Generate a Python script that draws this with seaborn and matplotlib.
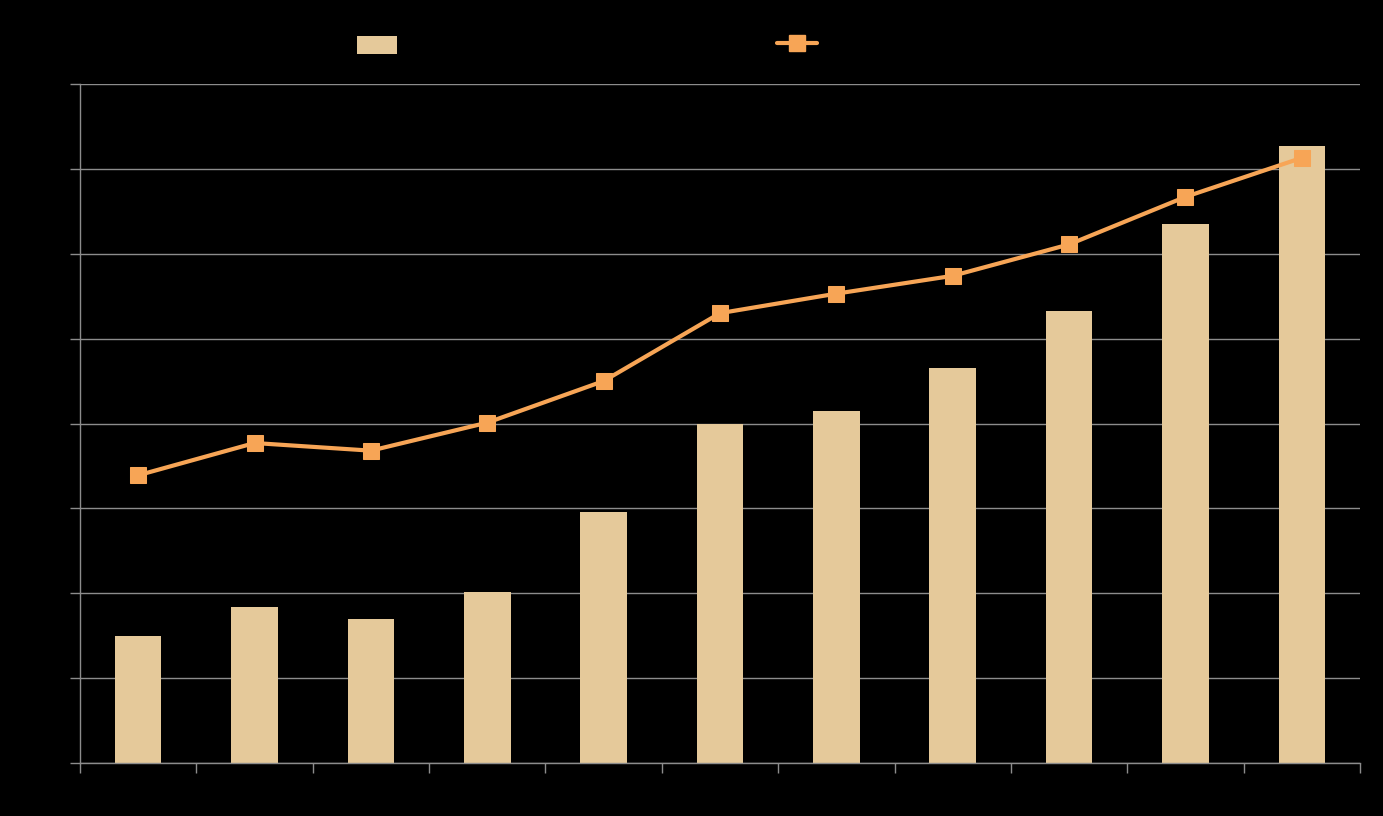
import numpy as np
import pandas as pd
import matplotlib
matplotlib.use('Agg')
import matplotlib.pyplot as plt
import seaborn as sns
from matplotlib.patches import Patch
from matplotlib.lines import Line2D

# values (no labels shown in the reference)
periods = ['P1', 'P2', 'P3', 'P4', 'P5', 'P6', 'P7', 'P8', 'P9', 'P10', 'P11']
bar_vals = [1.50, 1.84, 1.70, 2.01, 2.96, 3.99, 4.15, 4.65, 5.33, 6.35, 7.27]
line_vals = [3.39, 3.77, 3.68, 4.01, 4.50, 5.30, 5.53, 5.74, 6.11, 6.67, 7.13]

bar_color = '#E5C99A'
line_color = '#F7A556'
grid_color = '#8C8C8C'

df = pd.DataFrame({'period': periods, 'bars': bar_vals, 'line': line_vals})
df['pos'] = np.arange(len(df))

sns.set_style('dark')
fig = plt.figure(figsize=(13.83, 8.16), dpi=100, facecolor='black')
ax = fig.add_axes([80/1383, 53/816, 1280/1383, 679/816])
ax.set_facecolor('black')

sns.barplot(data=df, x='period', y='bars', color=bar_color, width=0.4,
            saturation=1, linewidth=0, edgecolor='none', ax=ax, zorder=2)
sns.lineplot(data=df, x='pos', y='line', color=line_color, linewidth=3,
             marker='s', markersize=12, markeredgecolor=line_color,
             markerfacecolor=line_color, ax=ax, zorder=3)

ax.set_xlim(-0.5, len(periods) - 0.5)
ax.set_ylim(0, 8)
ax.set_yticks(np.arange(0, 9, 1))
ax.set_xticks(np.arange(-0.5, len(periods), 1))
ax.set_xticklabels([])
ax.set_yticklabels([])
ax.set_xlabel('')
ax.set_ylabel('')
ax.grid(axis='y', color=grid_color, linewidth=1, zorder=0)
ax.grid(axis='x', visible=False)
ax.tick_params(axis='both', colors=grid_color, length=7, width=1,
               direction='out', bottom=True, left=True)
for s in ['top', 'right']:
    ax.spines[s].set_visible(False)
for s in ['left', 'bottom']:
    ax.spines[s].set_visible(True)
    ax.spines[s].set_color(grid_color)
    ax.spines[s].set_linewidth(1)

handles = [Patch(facecolor=bar_color, edgecolor='none'),
           Line2D([], [], color=line_color, linewidth=3, marker='s',
                  markersize=11)]
fig.legend(handles, ['', ''], ncol=2, loc='center',
           bbox_to_anchor=(587/1383, 1 - 45/816), frameon=False,
           handlelength=2.9, handleheight=1.6, handletextpad=0,
           columnspacing=27.3, fontsize=10)

fig.savefig('out.png', dpi=100, facecolor='black')
